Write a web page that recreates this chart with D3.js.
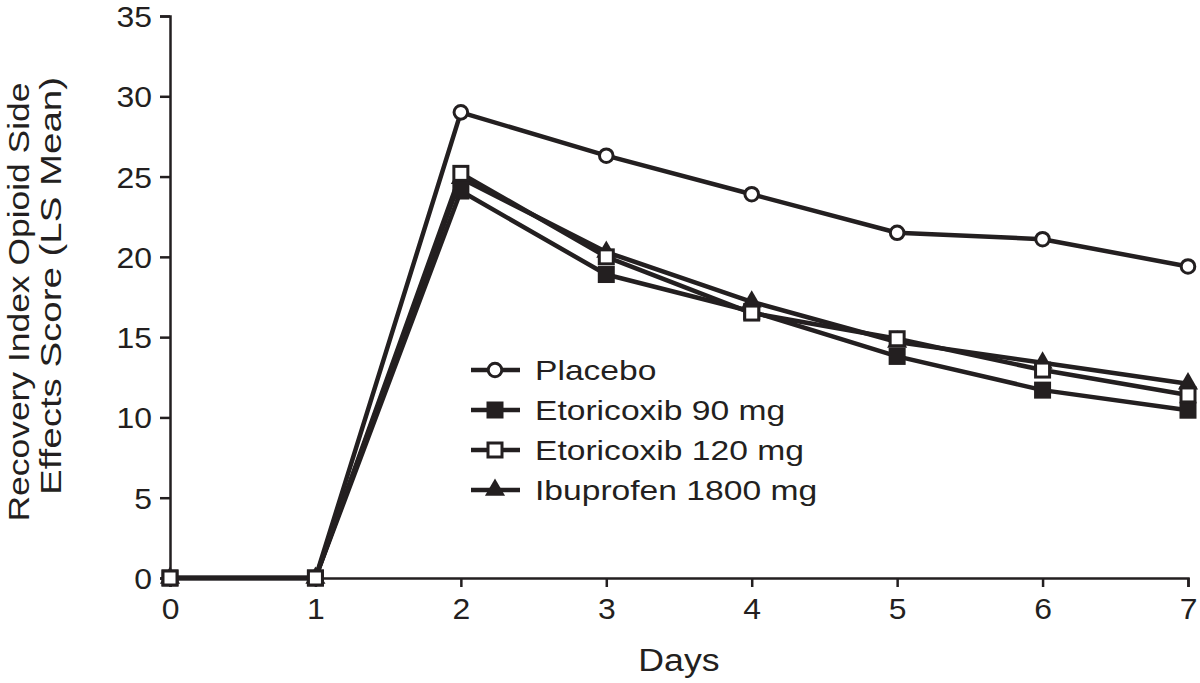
<!DOCTYPE html>
<html><head><meta charset="utf-8">
<script src="https://cdn.jsdelivr.net/npm/d3@7"></script>
<style>body{margin:0;background:#fff}text{font-family:"Liberation Sans",Arial,sans-serif;fill:#231f20}</style>
</head><body><svg id="c" width="1200" height="683"></svg>
<script>
const days = [0,1,2,3,4,5,6,7];
const placebo = [0,0,29.0,26.3,23.9,21.5,21.1,19.4];
const etori90 = [0,0,24.1,18.9,16.6,13.8,11.7,10.45];
const etori120 = [0,0,25.2,20.0,16.5,14.9,12.95,11.4];
const ibuprofen = [0,0,24.9,20.3,17.2,14.7,13.4,12.1];
const seriesNames = ["Placebo","Etoricoxib 90 mg","Etoricoxib 120 mg","Ibuprofen 1800 mg"];
const seriesMarkers = ["circle","filledSquare","openSquare","triangle"];
const yTicks = [0,5,10,15,20,25,30,35];

const ink = "#231f20";
const svg = d3.select("#c");
const x = d3.scaleLinear().domain([0,7]).range([170,1188]);
const y = d3.scaleLinear().domain([0,35]).range([578,16]);

function stretch(sel, f){
  sel.each(function(){
    const L = this.getComputedTextLength();
    d3.select(this).attr("textLength", L*f).attr("lengthAdjust","spacingAndGlyphs");
  });
}

// axes
const gx = svg.append("g").attr("transform","translate(0,578)")
  .call(d3.axisBottom(x).tickValues(days).tickSize(9).tickPadding(4).tickFormat(d3.format("d")));
const gy = svg.append("g").attr("transform","translate(170,0)")
  .call(d3.axisLeft(y).tickValues(yTicks).tickSize(10).tickPadding(8));
[gx,gy].forEach(g=>{
  g.select(".domain").attr("stroke",ink).attr("stroke-width",2.5);
  g.selectAll(".tick line").attr("stroke",ink).attr("stroke-width",2.5);
  g.selectAll(".tick text").style("font-size","29px").style("font-family","'Liberation Sans',Arial,sans-serif").attr("fill",ink);
});
gx.selectAll(".tick text").attr("dy","0.95em");
gy.selectAll(".tick text").attr("dy","0.36em");
stretch(gx.selectAll(".tick text"),1.1);
stretch(gy.selectAll(".tick text"),1.1);

const days_t = svg.append("text").attr("x",679).attr("y",671).attr("text-anchor","middle").style("font-size","31px").text("Days");
stretch(days_t,1.15);
const yl1 = svg.append("text").attr("transform","translate(29,302) rotate(-90)").attr("text-anchor","middle").style("font-size","30px").text("Recovery Index Opioid Side");
yl1.attr("textLength",439).attr("lengthAdjust","spacingAndGlyphs");
const yl2 = svg.append("text").attr("transform","translate(61,286) rotate(-90)").attr("text-anchor","middle").style("font-size","30px").text("Effects Score (LS Mean)");
yl2.attr("textLength",418).attr("lengthAdjust","spacingAndGlyphs");

const allSeries = [placebo, etori90, etori120, ibuprofen];
const line = d3.line().x((d,i)=>x(days[i])).y(d=>y(d));

function marker(g, type, cx, cy){
  if(type==="circle"){
    g.append("circle").attr("cx",cx).attr("cy",cy).attr("r",6.8).attr("fill","#fff").attr("stroke",ink).attr("stroke-width",3);
  } else if(type==="filledSquare"){
    g.append("rect").attr("x",cx-8.5).attr("y",cy-8.5).attr("width",17).attr("height",17).attr("fill",ink);
  } else if(type==="openSquare"){
    g.append("rect").attr("x",cx-7).attr("y",cy-7).attr("width",14).attr("height",14).attr("fill","#fff").attr("stroke",ink).attr("stroke-width",3);
  } else {
    g.append("path").attr("d",d3.symbol().type(d3.symbolTriangle).size(175)()).attr("transform",`translate(${cx},${cy})`).attr("fill",ink);
  }
}

const order = [0,1,3,2];
order.forEach(k=>{
  svg.append("path").datum(allSeries[k]).attr("d",line).attr("fill","none").attr("stroke",ink).attr("stroke-width",4.5).attr("stroke-linejoin","round");
});
order.forEach(k=>{
  const g = svg.append("g");
  allSeries[k].forEach((v,i)=>marker(g, seriesMarkers[k], x(days[i]), y(v)));
});

// legend
const lg = svg.append("g");
seriesNames.forEach((name,i)=>{
  const yy = 370 + i*40;
  lg.append("line").attr("x1",471).attr("x2",520).attr("y1",yy).attr("y2",yy).attr("stroke",ink).attr("stroke-width",4.5);
  marker(lg, seriesMarkers[i], 495, yy);
  const t = lg.append("text").attr("x",535).attr("y",yy+10).style("font-size","28px").text(name);
  stretch(t,1.2);
});
</script></body></html>
